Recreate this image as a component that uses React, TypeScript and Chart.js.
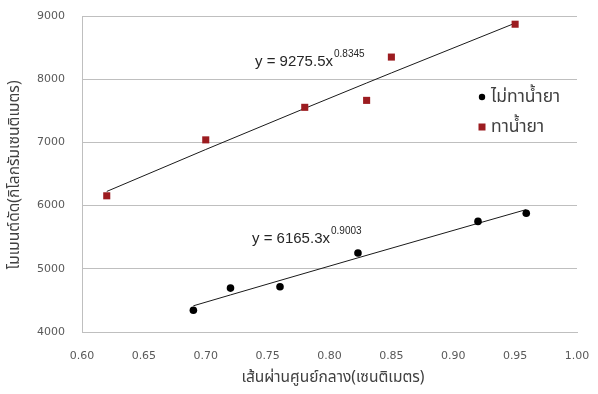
import React, { useEffect, useRef } from "react";
import { Chart, registerables } from "chart.js";

Chart.register(...registerables);

// ---- data ----
const seriesNames = ["ไม่ทาน้ำยา", "ทาน้ำยา"];
const xNoTreat = [0.69, 0.72, 0.76, 0.823, 0.92, 0.959];
const yNoTreat = [4345, 4695, 4715, 5250, 5750, 5880];
const xTreat = [0.62, 0.70, 0.78, 0.83, 0.85, 0.95];
const yTreat = [6155, 7040, 7555, 7665, 8350, 8870];

// power trendline coefficients shown on the chart
const fitNoTreatA = 6165.3;
const fitNoTreatB = 0.9003;
const fitTreatA = 9275.5;
const fitTreatB = 0.8345;
const eqNoTreat = ["y = 6165.3x", "0.9003"];
const eqTreat = ["y = 9275.5x", "0.8345"];

const xTitle = "เส้นผ่านศูนย์กลาง(เซนติเมตร)";
const yTitle = "โมเมนต์ดัด(กิโลกรัมเซนติเมตร)";
const xMin = 0.6, xMax = 1.0, xStep = 0.05;
const yMin = 4000, yMax = 9000, yStep = 1000;

const RED = "#9c1c20";
const TEXT = "#404040";
const TICK = "#595959";
const GRID = "#bfbfbf";
const THAI_FONT = "'Noto Sans Thai', 'Noto Sans', Tahoma, sans-serif";
const EQ_FONT = "'Liberation Sans', Arial, sans-serif";

const overlay = {
  id: "overlay",
  afterDraw(chart: any) {
    const ctx = chart.ctx;
    ctx.save();
    // axis titles
    ctx.fillStyle = TEXT;
    ctx.font = `15.5px ${THAI_FONT}`;
    ctx.textAlign = "center";
    ctx.textBaseline = "middle";
    ctx.fillText(xTitle, 333, 379);
    ctx.save();
    ctx.translate(16, 175);
    ctx.rotate(-Math.PI / 2);
    ctx.font = `15.5px ${THAI_FONT}`;
    ctx.fillText(yTitle, 0, 0);
    ctx.restore();

    // equations
    const drawEq = (eq: string[], px: number, py: number) => {
      ctx.textAlign = "left";
      ctx.textBaseline = "middle";
      ctx.fillStyle = "#262626";
      ctx.font = `15px ${EQ_FONT}`;
      ctx.fillText(eq[0], px, py);
      const w = ctx.measureText(eq[0]).width;
      ctx.font = `10px ${EQ_FONT}`;
      ctx.fillText(eq[1], px + w + 1, py - 8);
    };
    drawEq(eqTreat, 255, 62);
    drawEq(eqNoTreat, 252, 239);

    // legend
    const lx = 482;
    ctx.fillStyle = "#000";
    ctx.beginPath();
    ctx.arc(lx, 97, 3.2, 0, Math.PI * 2);
    ctx.fill();
    ctx.fillStyle = RED;
    ctx.fillRect(lx - 3.5, 123.5, 7, 7);
    ctx.fillStyle = TEXT;
    ctx.font = `17.5px ${THAI_FONT}`;
    ctx.textAlign = "left";
    ctx.textBaseline = "middle";
    ctx.fillText(seriesNames[0], lx + 9, 98);
    ctx.fillText(seriesNames[1], lx + 9, 128);
    ctx.restore();
  },
};

export default function App() {
  const ref = useRef<HTMLCanvasElement>(null);
  useEffect(() => {
    document.body.style.margin = "0";
    const trendNo = xNoTreat.map((x) => ({ x, y: fitNoTreatA * Math.pow(x, fitNoTreatB) }));
    const trendTr = xTreat.map((x) => ({ x, y: fitTreatA * Math.pow(x, fitTreatB) }));
    const chart = new Chart(ref.current!, {
      type: "scatter",
      data: {
        datasets: [
          {
            label: "trend1",
            data: trendNo,
            showLine: true,
            borderColor: "#1a1a1a",
            borderWidth: 1,
            pointRadius: 0,
            order: 3,
          },
          {
            label: "trend2",
            data: trendTr,
            showLine: true,
            borderColor: "#1a1a1a",
            borderWidth: 1,
            pointRadius: 0,
            order: 3,
          },
          {
            label: seriesNames[0],
            data: xNoTreat.map((x, i) => ({ x, y: yNoTreat[i] })),
            pointStyle: "circle",
            pointRadius: 3.8,
            backgroundColor: "#000",
            borderColor: "#000",
            borderWidth: 0,
            order: 1,
          },
          {
            label: seriesNames[1],
            data: xTreat.map((x, i) => ({ x, y: yTreat[i] })),
            pointStyle: "rect",
            pointRadius: 5,
            backgroundColor: RED,
            borderColor: RED,
            borderWidth: 0,
            order: 1,
          },
        ],
      },
      options: {
        animation: false,
        responsive: false,
        layout: { padding: { left: 0, right: 21, top: 16, bottom: 0 } },
        plugins: { legend: { display: false }, tooltip: { enabled: false }, title: { display: false } },
        scales: {
          x: {
            type: "linear",
            min: xMin,
            max: xMax,
            afterFit: (s: any) => {
              s.height = 62;
              s.paddingLeft = 0;
              s.paddingRight = 0;
              s.paddingTop = 0;
              s.paddingBottom = 0;
            },
            afterBuildTicks: (s: any) => {
              const t = [];
              for (let v = xMin; v <= xMax + 1e-9; v += xStep) t.push({ value: Math.round(v * 100) / 100 });
              s.ticks = t;
            },
            ticks: {
              callback: (v: any) => Number(v).toFixed(2),
              color: TICK,
              font: { family: "'DejaVu Sans', Tahoma, sans-serif", size: 11 },
              padding: 18,
              maxRotation: 0,
              autoSkip: false,
            },
            grid: { display: false, drawTicks: false },
            border: { display: true, color: GRID, width: 1 },
          },
          y: {
            min: yMin,
            max: yMax,
            afterFit: (s: any) => {
              s.width = 82;
              s.paddingLeft = 0;
              s.paddingRight = 0;
              s.paddingTop = 0;
              s.paddingBottom = 0;
            },
            ticks: {
              stepSize: yStep,
              callback: (v: any) => String(v),
              color: TICK,
              font: { family: "'DejaVu Sans', Tahoma, sans-serif", size: 11 },
              padding: 17,
            },
            grid: { color: GRID, drawTicks: false, lineWidth: 1 },
            border: { display: true, color: GRID, width: 1 },
          },
        },
      },
      plugins: [overlay],
    });
    return () => chart.destroy();
  }, []);
  return <canvas ref={ref} width={598} height={394} style={{ display: "block" }} />;
}
